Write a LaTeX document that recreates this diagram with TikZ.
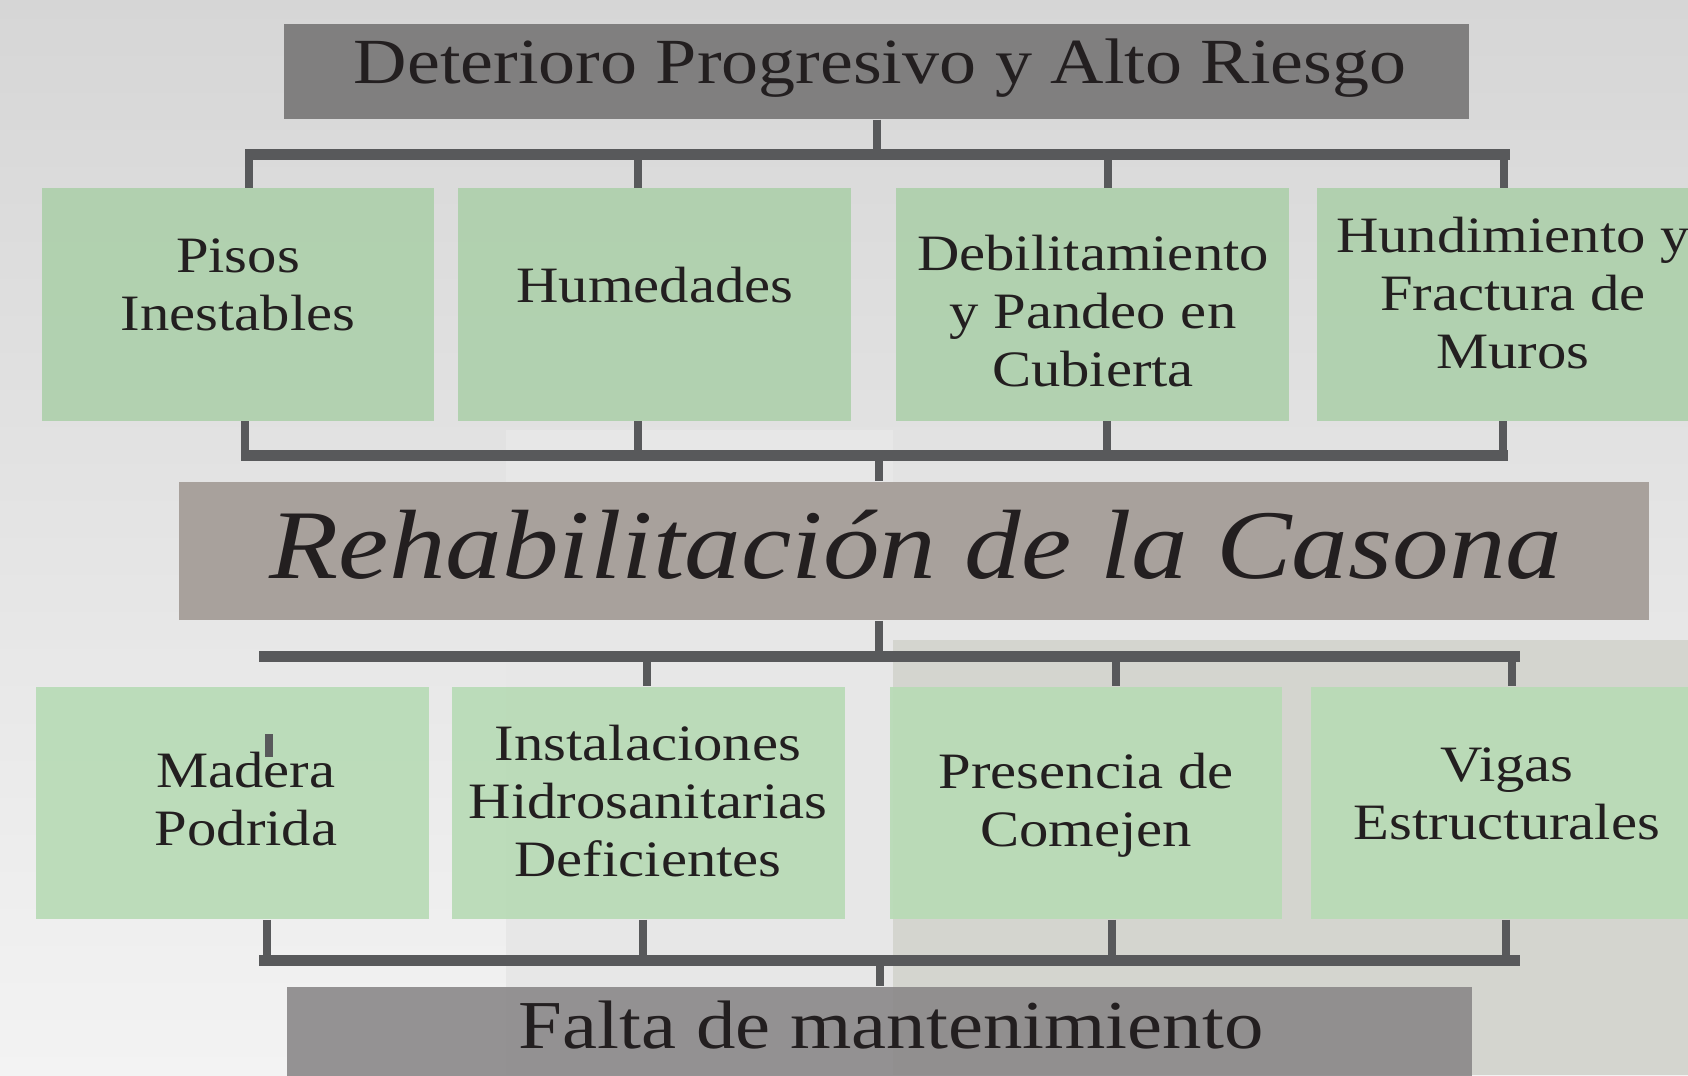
\documentclass[tikz,border=0pt]{standalone}
\usepackage{fontspec}
\setmainfont{Liberation Serif}[FakeStretch=1.15]
\definecolor{ink}{RGB}{35,31,32}
\definecolor{wire}{RGB}{88,89,91}
\definecolor{leaf}{RGB}{174,208,172}
\definecolor{leaflow}{RGB}{184,219,182}
\definecolor{slate}{RGB}{128,127,127}
\definecolor{taupe}{RGB}{168,161,156}
\definecolor{ash}{RGB}{138,136,137}
\definecolor{bgtop}{RGB}{214,214,214}
\definecolor{bgbot}{RGB}{243,243,243}
\definecolor{bgmid}{RGB}{231,231,231}
\definecolor{photo}{RGB}{212,213,207}

\begin{document}
\begin{tikzpicture}[x=0.01cm,y=-0.01cm,
  head/.style={inner sep=0pt},
  cause/.style={fill=leaf,fill opacity=0.92,minimum width=3.92cm,minimum height=2.32cm,inner sep=0pt},
  lbl/.style={align=center,text=ink,font=\fontsize{14.5}{16.5}\selectfont},
  bar/.style={wire,line width=0.11cm},
  stem/.style={wire,line width=0.08cm}]
  \useasboundingbox (0,0) rectangle (1688,1075);
  \clip (0,0) rectangle (1688,1075);
  \shade[top color=bgtop,bottom color=bgbot] (0,0) rectangle (1688,1075);
  \fill[bgmid] (506,430) rectangle (893,1075);
  \fill[photo] (893,640) rectangle (1688,1075);

  \node[head,fill=slate,minimum width=11.85cm,minimum height=0.95cm] (risk) at (876.5,71.5) {};
  \node[anchor=base,text=ink,font=\fontsize{18.3}{22}\selectfont] (riskT) at (880,83) {Deterioro Progresivo y Alto Riesgo};

  \node[cause] (pisos) at (238,304.5) {};
  \node[cause] (humedad) at (654.5,304.5) {};
  \node[cause] (pandeo) at (1092.5,304.5) {};
  \node[cause] (muros) at (1513,304.5) {};
  \node[lbl] (pisosT) at (238,285) {Pisos\\Inestables};
  \node[lbl] (humedadT) at (655,285) {Humedades};
  \node[lbl] (pandeoT) at (1093,311) {Debilitamiento\\y Pandeo en\\Cubierta};
  \node[lbl] (murosT) at (1513,293) {Hundimiento y\\Fractura de\\Muros};

  \node[head,fill=taupe,minimum width=14.7cm,minimum height=1.38cm] (casona) at (914,551) {};
  \node[anchor=base,text=ink,font=\fontsize{28}{32}\selectfont\itshape] (casonaT) at (916,578) {Rehabilitación de la Casona};

  \node[cause,fill=leaflow] (madera) at (232.5,803) {};
  \node[cause,fill=leaflow] (redes) at (648.5,803) {};
  \node[cause,fill=leaflow] (comejen) at (1086,803) {};
  \node[cause,fill=leaflow] (vigas) at (1507,803) {};
  \node[lbl] (maderaT) at (246,799) {Madera\\Podrida};
  \node[lbl] (redesT) at (648,801) {Instalaciones\\Hidrosanitarias\\Deficientes};
  \node[lbl] (comejenT) at (1086,805) {Presencia de\\Comejen};
  \node[lbl] (vigasT) at (1507,794) {Vigas\\Estructurales};

  \node[head,fill=ash,fill opacity=0.9,minimum width=11.85cm,minimum height=1.2cm] (falta) at (879.5,1047) {};
  \node[anchor=base,text=ink,font=\fontsize{19.5}{23}\selectfont] (faltaT) at (891,1048) {Falta de mantenimiento};

  \coordinate (u0) at (245,154);
  \coordinate (u5) at (1510,154);
  \draw[bar] (u0) -- (u5);
  \draw[stem] (risk.south) -- (risk.south |- u0);
  \foreach \x/\n in {249/pisos,638/humedad,1108/pandeo,1504/muros}{
    \coordinate (u\n) at (\x,154);
    \draw[stem] (u\n) -- (u\n |- \n.north);
  }

  \coordinate (m0) at (241,455);
  \coordinate (m5) at (1508,455);
  \draw[bar] (m0) -- (m5);
  \foreach \x/\n in {245/pisos,638/humedad,1107/pandeo,1503/muros}{
    \coordinate (m\n) at (\x,455);
    \draw[stem] (\n.south -| m\n) -- (m\n);
  }
  \coordinate (mc) at (879,455);
  \draw[stem] (mc) -- (mc |- casona.north);

  \coordinate (l0) at (259,656);
  \coordinate (l5) at (1520,656);
  \draw[bar] (l0) -- (l5);
  \coordinate (lc) at (879,656);
  \draw[stem] (lc |- casona.south) -- (lc);
  \foreach \x/\n in {647/redes,1116/comejen,1512/vigas}{
    \coordinate (l\n) at (\x,656);
    \draw[stem] (l\n) -- (l\n |- \n.north);
  }
  \coordinate (s1) at (269,734);
  \coordinate (s2) at (269,757);
  \draw[stem] (s1) -- (s2);

  \coordinate (f0) at (259,960);
  \coordinate (f5) at (1520,960);
  \draw[bar] (f0) -- (f5);
  \foreach \x/\n in {267/madera,643/redes,1112/comejen,1506/vigas}{
    \coordinate (f\n) at (\x,960);
    \draw[stem] (\n.south -| f\n) -- (f\n);
  }
  \coordinate (fc) at (880,960);
  \draw[stem] (fc) -- (fc |- falta.north);
\end{tikzpicture}
\end{document}
